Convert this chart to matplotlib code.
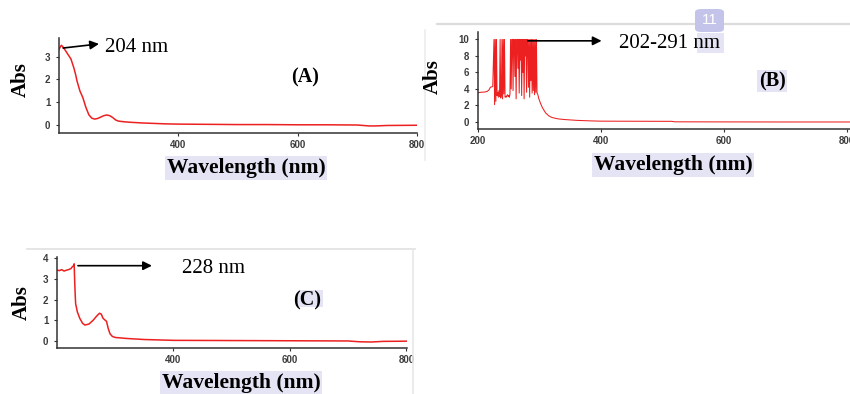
import matplotlib
matplotlib.use("Agg")
import matplotlib.pyplot as plt
from matplotlib.patches import FancyBboxPatch, Rectangle
from matplotlib.lines import Line2D

# ---------------- data ----------------
wl_a = [200, 202, 204, 206, 210, 215, 220, 225, 228, 230, 235, 240, 245, 250, 255, 260,
        265, 270, 275, 280, 285, 290, 295, 300, 310, 320, 340, 360, 380, 400, 450, 500,
        550, 600, 650, 700, 710, 720, 730, 740, 750, 800]
abs_a = [3.32, 3.42, 3.50, 3.45, 3.30, 3.10, 2.90, 2.50, 2.20, 1.95, 1.50, 1.20, 0.78,
         0.45, 0.30, 0.26, 0.29, 0.35, 0.41, 0.44, 0.41, 0.33, 0.22, 0.17, 0.14, 0.12,
         0.09, 0.07, 0.05, 0.04, 0.03, 0.02, 0.02, 0.01, 0.01, 0.0, -0.02, -0.04, -0.04,
         -0.03, -0.02, -0.01]

wl_b_start = [200, 205, 210, 215, 218, 220, 224]
abs_b_start = [3.55, 3.60, 3.62, 3.70, 3.90, 4.20, 4.30]
wl_b_noise = list(range(226, 297))
abs_b_noise = [10, 2.1, 10, 2.5, 10, 3.2, 3.6, 3.0, 3.8, 3.1, 10, 2.9, 3.3, 10, 2.8, 10,
               3.4, 10, 3.0, 3.1, 3.0, 3.2, 3.3, 3.1, 3.2, 3.0, 3.4, 10, 4.0, 10, 10, 3.8,
               10, 10, 5.5, 10, 2.8, 10, 10, 6.5, 10, 3.5, 10, 7.5, 10, 3.2, 10, 6.0, 10,
               2.8, 10, 8.0, 10, 3.6, 10, 10, 4.2, 10, 3.0, 10, 5.0, 10, 3.5, 10, 3.8, 10,
               3.3, 10, 3.6, 10, 3.5]
wl_b_tail = [297, 299, 302, 305, 310, 315, 320, 330, 340, 360, 380, 400, 450, 500, 515,
             520, 600, 700, 805]
abs_b_tail = [3.40, 2.80, 2.20, 1.70, 1.10, 0.75, 0.55, 0.38, 0.30, 0.20, 0.14, 0.10,
              0.09, 0.08, 0.08, 0.02, 0.01, 0.0, 0.0]

wl_c = [200, 204, 208, 212, 216, 220, 224, 226, 228, 229.5, 230, 231, 232, 235, 239, 244,
        248, 255, 262, 268, 273, 276, 279, 282, 285, 288, 291, 295, 300, 320, 350, 400,
        500, 600, 700, 720, 740, 760, 801]
abs_c = [3.43, 3.40, 3.45, 3.38, 3.42, 3.45, 3.50, 3.58, 3.62, 3.73, 3.20, 2.40, 1.80,
         1.40, 1.10, 0.85, 0.77, 0.82, 1.00, 1.20, 1.34, 1.30, 1.10, 1.02, 0.95, 0.60,
         0.35, 0.22, 0.17, 0.12, 0.07, 0.03, 0.02, 0.01, 0.0, -0.04, -0.05, -0.02, -0.01]

xticks_ac = [400, 600, 800]
xticks_b = [200, 400, 600, 800]
yticks_a = [0, 1, 2, 3]
yticks_b = [0, 2, 4, 6, 8, 10]
yticks_c = [0, 1, 2, 3, 4]

label_a, label_b, label_c = "(A)", "(B)", "(C)"
peak_a, peak_b, peak_c = "204 nm", "202-291 nm", "228 nm"

# ---------------- layout helpers ----------------
W, H = 850, 394
fig = plt.figure(figsize=(W / 100, H / 100), dpi=100)
fig.patch.set_facecolor("white")

def fx(x):
    return x / W

def fy(y):
    return 1 - y / H

def add_ax(left, right, top, bottom):
    return fig.add_axes([fx(left), fy(bottom), (right - left) / W, (bottom - top) / H])

RED = "#ec2020"
SPINE = "#333333"
TICKC = "#3c3c3c"
HILITE = "#e4e4f4"
SERIF = ["Liberation Serif", "DejaVu Serif"]
SANS = ["Liberation Sans", "DejaVu Sans"]

def style(ax, xt, yt, xlim, ylim):
    ax.set_facecolor("none")
    for s in ("top", "right"):
        ax.spines[s].set_visible(False)
    for s in ("left", "bottom"):
        ax.spines[s].set_color(SPINE)
        ax.spines[s].set_linewidth(1.1)
    ax.set_xlim(*xlim)
    ax.set_ylim(*ylim)
    ax.set_xticks(xt)
    ax.set_yticks(yt)
    ax.tick_params(axis="both", direction="out", length=2.2, width=0.8, color=SPINE,
                   labelsize=7, labelcolor=TICKC)
    ax.tick_params(axis="x", pad=2.5)
    ax.tick_params(axis="y", pad=4.0)
    for lab in ax.get_xticklabels() + ax.get_yticklabels():
        lab.set_fontweight("bold")
        lab.set_family(SANS)

def arrow(ax, tail, head):
    ax.annotate("", xy=head, xytext=tail,
                arrowprops=dict(arrowstyle="-|>", color="black", lw=1.2,
                                mutation_scale=13, shrinkA=0, shrinkB=0))

def peak_text(ax, x, y, s):
    # place in data coords of ax, but drawn at figure level so highlights stay behind
    disp = ax.transData.transform((x, y))
    fxy = fig.transFigure.inverted().transform(disp)
    fig.text(fxy[0], fxy[1], s, fontsize=15, family=SERIF, va="center", ha="left",
             zorder=5)

# ---------------- decorative frame lines ----------------
fig.add_artist(Line2D([fx(437), fx(850)], [fy(24), fy(24)], color="#dcdcdc", lw=1.6))
fig.add_artist(Line2D([fx(425), fx(425)], [fy(30), fy(160)], color="#ececec", lw=1.2))
fig.add_artist(Line2D([fx(27), fx(415)], [fy(249), fy(249)], color="#e0e0e0", lw=1.2))
fig.add_artist(Line2D([fx(413), fx(413)], [fy(250), fy(394)], color="#e8e8e8", lw=1.2))

# ---------------- panel A ----------------
axA = add_ax(59, 417, 38, 133)
axA.plot(wl_a, abs_a, color=RED, lw=1.1)
style(axA, xticks_ac, yticks_a, (200, 800), (-0.35, 3.82))
arrow(axA, (207, 3.38), (267, 3.56))
peak_text(axA, 277, 3.39, peak_a)
fig.text(fx(305), fy(77), label_a, fontsize=14.5, family=SERIF, weight="bold",
         ha="center", va="center")
fig.text(fx(21), fy(80), "Abs", fontsize=15, family=SERIF, weight="bold",
         rotation=90, ha="center", va="center")
fig.text(fx(246), fy(168), "Wavelength (nm)", fontsize=15.5, family=SERIF, weight="bold",
         ha="center", va="center",
         bbox=dict(boxstyle="square,pad=0.08", fc=HILITE, ec="none"))

# ---------------- panel B ----------------
axB = add_ax(478, 850, 32, 129)
wl_b = wl_b_start + wl_b_noise + wl_b_tail
abs_b = abs_b_start + abs_b_noise + abs_b_tail
axB.plot(wl_b, abs_b, color=RED, lw=0.75)
style(axB, xticks_b, yticks_b, (200, 805), (-0.85, 10.9))
arrow(axB, (281, 9.83), (401, 9.83))
fig.add_artist(Rectangle((fx(697), fy(53)), 27 / W, 20 / H, fc=HILITE, ec="none", zorder=1))
peak_text(axB, 429, 9.55, peak_b)
fig.add_artist(Rectangle((fx(757), fy(92)), 30 / W, 22 / H, fc=HILITE, ec="none", zorder=1))
fig.text(fx(772), fy(81), label_b, fontsize=14.5, family=SERIF, weight="bold",
         ha="center", va="center", zorder=5)
fig.text(fx(433), fy(77), "Abs", fontsize=15, family=SERIF, weight="bold",
         rotation=90, ha="center", va="center")
fig.text(fx(673), fy(165), "Wavelength (nm)", fontsize=15.5, family=SERIF, weight="bold",
         ha="center", va="center",
         bbox=dict(boxstyle="square,pad=0.08", fc=HILITE, ec="none"))
badge = FancyBboxPatch((fx(695), fy(32)), 29 / W, 23 / H,
                       boxstyle="round,pad=0,rounding_size=0.008",
                       fc="#c4c4ea", ec="none", zorder=6, transform=fig.transFigure)
fig.add_artist(badge)
fig.text(fx(709.5), fy(20), "11", fontsize=11, family=SANS, color="white",
         ha="center", va="center", zorder=7)

# ---------------- panel C ----------------
axC = add_ax(57, 407, 257, 348)
axC.plot(wl_c, abs_c, color=RED, lw=1.1)
style(axC, xticks_ac, yticks_c, (200, 801), (-0.34, 4.06))
arrow(axC, (236, 3.64), (363, 3.64))
peak_text(axC, 414, 3.48, peak_c)
fig.add_artist(Rectangle((fx(298), fy(307)), 25 / W, 17 / H, fc=HILITE, ec="none", zorder=1))
fig.text(fx(307.5), fy(300), label_c, fontsize=14.5, family=SERIF, weight="bold",
         ha="center", va="center", zorder=5)
fig.text(fx(22), fy(303), "Abs", fontsize=15, family=SERIF, weight="bold",
         rotation=90, ha="center", va="center")
fig.text(fx(241), fy(383), "Wavelength (nm)", fontsize=15.5, family=SERIF, weight="bold",
         ha="center", va="center",
         bbox=dict(boxstyle="square,pad=0.08", fc=HILITE, ec="none"))

fig.savefig("out.png", dpi=100, facecolor="white")
